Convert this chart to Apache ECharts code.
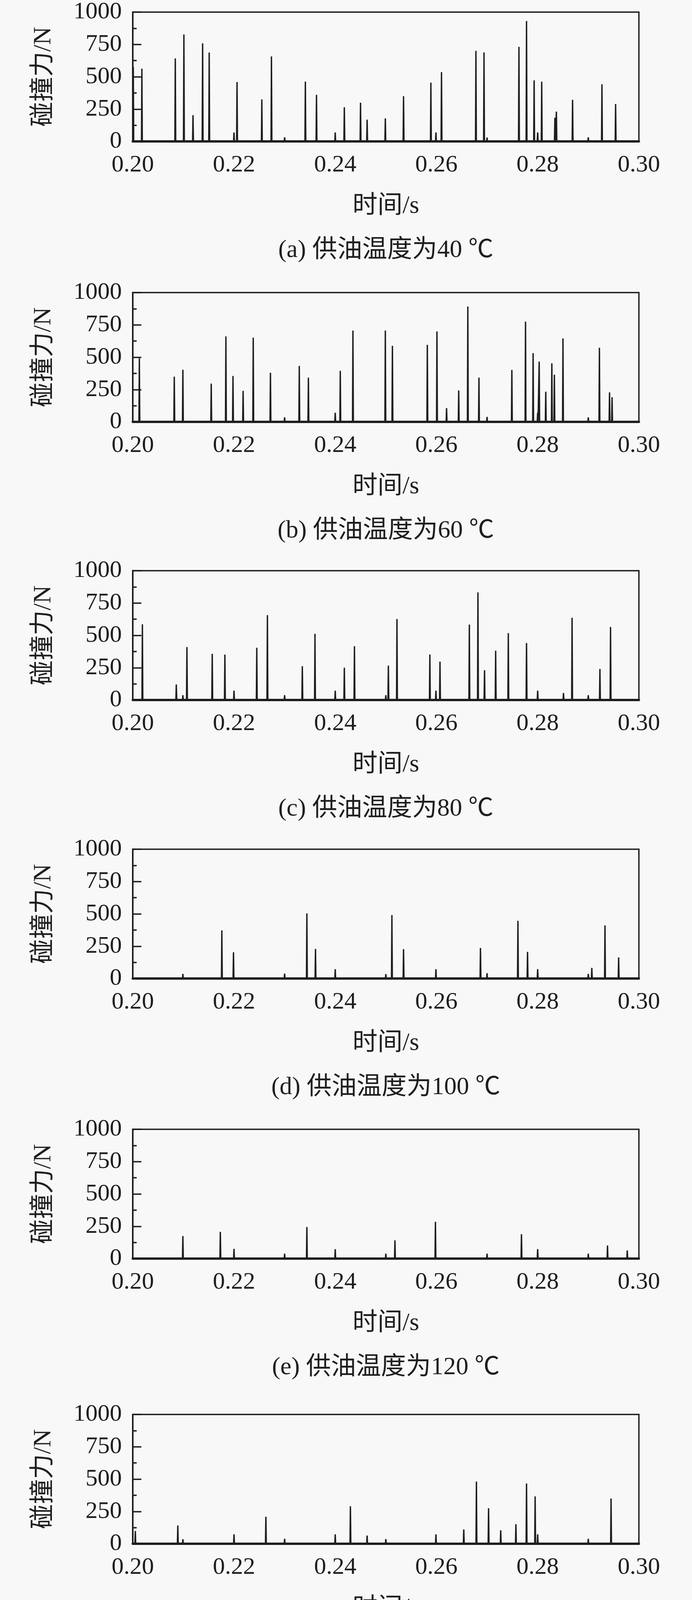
<!DOCTYPE html>
<html>
<head>
<meta charset="utf-8">
<script src="https://cdn.jsdelivr.net/npm/echarts@6/dist/echarts.min.js"></script>
<style>
html,body{margin:0;padding:0;background:#f8f8f8;}
#chart{width:1772px;height:4274px;}
</style>
</head>
<body>
<div id="chart"></div>
<script>
// ---- data (spike times in s, peak collision force in N) ----
const xTicks = [0.20, 0.22, 0.24, 0.26, 0.28, 0.30];
const yTicks = [0, 250, 500, 750, 1000];
const captions = ['(a) 供油温度为40 ℃', '(b) 供油温度为60 ℃', '(c) 供油温度为80 ℃',
                  '(d) 供油温度为100 ℃', '(e) 供油温度为120 ℃', '(f) 供油温度为140 ℃'];
const xName = '时间/s';
const yName = '碰撞力/N';

const tA = [0.2001,0.2018,0.2084,0.2101,0.2119,0.2138,0.2151,0.2200,0.2206,0.2255,0.2274,0.2300,0.2341,0.2363,0.2400,0.2418,0.2450,0.2463,0.2499,0.2535,0.2589,0.2599,0.2610,0.2678,0.2694,0.2700,0.2763,0.2778,0.2793,0.2800,0.2808,0.2834,0.2837,0.2869,0.2900,0.2927,0.2954];
const vA = [575,563,642,827,203,758,687,69,459,325,657,32,462,360,69,264,299,168,178,350,455,69,536,700,688,30,731,931,472,69,462,183,230,322,32,442,289];

const tB = [0.2013,0.2082,0.2099,0.2155,0.2184,0.2198,0.2218,0.2238,0.2272,0.2300,0.2329,0.2347,0.2400,0.2410,0.2435,0.2499,0.2513,0.2582,0.2601,0.2620,0.2644,0.2662,0.2684,0.2700,0.2749,0.2776,0.2791,0.2800,0.2803,0.2816,0.2828,0.2833,0.2850,0.2900,0.2922,0.2942,0.2947];
const vB = [492,350,403,296,661,355,240,651,380,35,433,342,71,395,706,706,588,596,699,106,243,892,342,38,402,775,532,71,466,233,453,365,646,35,573,228,190];

const tC = [0.2019,0.2086,0.2099,0.2107,0.2157,0.2182,0.2200,0.2245,0.2266,0.2300,0.2335,0.2360,0.2400,0.2418,0.2438,0.2500,0.2505,0.2522,0.2587,0.2599,0.2607,0.2665,0.2682,0.2695,0.2717,0.2742,0.2778,0.2800,0.2851,0.2868,0.2900,0.2923,0.2944];
const vC = [585,120,37,409,357,351,72,404,656,37,261,512,72,250,416,37,266,626,352,72,297,583,832,230,381,517,440,72,54,636,37,240,565];

const tD = [0.2099,0.2176,0.2199,0.2300,0.2344,0.2361,0.2400,0.2500,0.2512,0.2535,0.2599,0.2687,0.2700,0.2761,0.2780,0.2800,0.2900,0.2907,0.2933,0.2960];
const vD = [36,372,203,38,504,229,72,34,491,227,72,236,41,446,206,72,36,82,411,163];

const tE = [0.2099,0.2173,0.2200,0.2300,0.2344,0.2400,0.2500,0.2518,0.2598,0.2700,0.2768,0.2800,0.2900,0.2938,0.2977];
const vE = [174,207,75,38,244,73,38,141,285,38,189,73,38,101,63];

const tF = [0.2005,0.2089,0.2099,0.2200,0.2263,0.2300,0.2400,0.2430,0.2463,0.2500,0.2599,0.2654,0.2679,0.2703,0.2727,0.2757,0.2778,0.2795,0.2800,0.2900,0.2945];
const vF = [99,141,35,73,209,38,73,290,63,36,73,111,481,275,104,151,466,366,73,38,350];

const panelTimes = [tA, tB, tC, tD, tE, tF];
const panelVals  = [vA, vB, vC, vD, vE, vF];

// ---- layout ----
const gridTops = [31, 749, 1461, 2174, 2891, 3621];
const gridH = 331;
const gridLeft = 340;
const gridW = 1296;
const FONT_LAT = "'Liberation Serif', 'Noto Sans CJK SC', serif";
const FONT_CJK = "'Liberation Serif', 'Noto Sans CJK SC', sans-serif";
const INK = '#1e1e1e';
const HALF = 0.00008;

function buildLine(ts, vs) {
  const pts = [[0.2, 0]];
  const order = ts.map((t, i) => i).sort((a, b) => ts[a] - ts[b]);
  order.forEach(i => {
    const t = ts[i];
    pts.push([Math.max(0.2, t - HALF), 0]);
    pts.push([t, vs[i]]);
    pts.push([Math.min(0.3, t + HALF), 0]);
  });
  pts.push([0.3, 0]);
  return pts;
}

const grids = [], xAxes = [], yAxes = [], series = [], titles = [];
for (let k = 0; k < 6; k++) {
  grids.push({left: gridLeft, top: gridTops[k], width: gridW, height: gridH,
    show: true, borderColor: INK, borderWidth: 3.5, backgroundColor: 'transparent', containLabel: false});
  xAxes.push({gridIndex: k, type: 'value', min: xTicks[0], max: xTicks[xTicks.length-1], interval: 0.02,
    name: xName, nameLocation: 'middle', nameGap: 134,
    nameTextStyle: {fontSize: 64, fontFamily: FONT_CJK, color: INK},
    axisLine: {show: true, lineStyle: {color: INK, width: 6}},
    axisTick: {show: false}, splitLine: {show: false},
    axisLabel: {fontSize: 62, fontFamily: FONT_LAT, color: INK, margin: 30,
      formatter: v => v.toFixed(2)}});
  yAxes.push({gridIndex: k, type: 'value', min: 0, max: 1000, interval: 250,
    name: yName, nameLocation: 'middle', nameGap: 196, nameRotate: 90,
    nameTextStyle: {fontSize: 64, fontFamily: FONT_CJK, color: INK},
    axisLine: {show: true, lineStyle: {color: INK, width: 4}},
    axisTick: {show: true, inside: true, length: 22, lineStyle: {color: INK, width: 3.5}},
    minorTick: {show: true, splitNumber: 2, length: 10, lineStyle: {color: INK, width: 3.5}},
    splitLine: {show: false},
    axisLabel: {fontSize: 62, fontFamily: FONT_LAT, color: INK, margin: 28,
      formatter: v => String(Math.round(v))}});
  series.push({type: 'line', xAxisIndex: k, yAxisIndex: k, data: buildLine(panelTimes[k], panelVals[k]),
    symbol: 'none', lineStyle: {color: INK, width: 3.5}, animation: false});
  titles.push({text: captions[k], left: gridLeft + gridW / 2, textAlign: 'center',
    top: gridTops[k] + gridH + 247, padding: 0,
    textStyle: {fontSize: 64, fontWeight: 'normal', fontFamily: FONT_CJK, color: INK}});
}

const chart = echarts.init(document.getElementById('chart'), null, {renderer: 'canvas'});
chart.setOption({
  backgroundColor: '#f8f8f8',
  animation: false,
  title: titles,
  grid: grids,
  xAxis: xAxes,
  yAxis: yAxes,
  series: series
});
</script>
</body>
</html>
